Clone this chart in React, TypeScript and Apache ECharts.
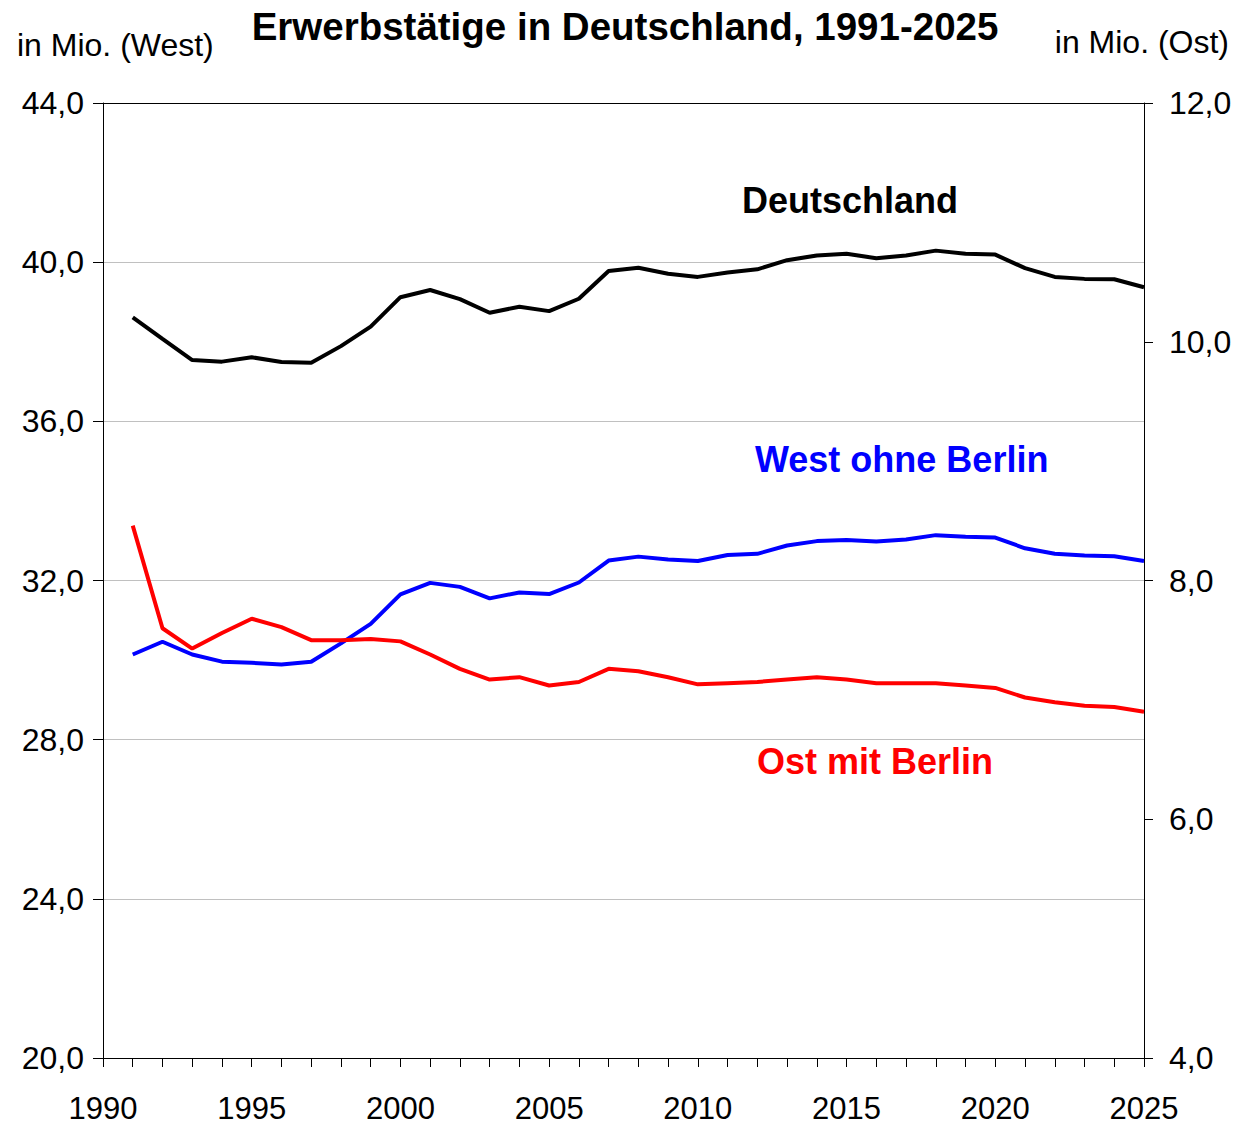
import React, { useEffect, useRef } from "react";
import * as echarts from "echarts";

const years = [
  1991, 1992, 1993, 1994, 1995, 1996, 1997, 1998, 1999, 2000,
  2001, 2002, 2003, 2004, 2005, 2006, 2007, 2008, 2009, 2010,
  2011, 2012, 2013, 2014, 2015, 2016, 2017, 2018, 2019, 2020,
  2021, 2022, 2023, 2024, 2025,
];

const deutschland = [
  38.61, 38.07, 37.54, 37.5, 37.61, 37.49, 37.47, 37.89, 38.38, 39.12,
  39.3, 39.07, 38.73, 38.88, 38.77, 39.08, 39.78, 39.86, 39.71, 39.63,
  39.74, 39.82, 40.05, 40.17, 40.21, 40.1, 40.17, 40.29, 40.21, 40.19,
  39.85, 39.63, 39.58, 39.57, 39.37,
];

const westOhneBerlin = [
  30.14, 30.46, 30.14, 29.96, 29.93, 29.89, 29.96, 30.42, 30.91, 31.65,
  31.94, 31.84, 31.55, 31.7, 31.66, 31.95, 32.5, 32.6, 32.53, 32.49,
  32.64, 32.67, 32.88, 32.99, 33.02, 32.98, 33.03, 33.14, 33.1, 33.08,
  32.81, 32.67, 32.63, 32.61, 32.49,
];

const ostMitBerlin = [
  8.46, 7.6, 7.43, 7.56, 7.68, 7.61, 7.5, 7.5, 7.51, 7.49,
  7.38, 7.26, 7.17, 7.19, 7.12, 7.15, 7.26, 7.24, 7.19, 7.13,
  7.14, 7.15, 7.17, 7.19, 7.17, 7.14, 7.14, 7.14, 7.12, 7.1,
  7.02, 6.98, 6.95, 6.94, 6.9,
];

const titleText = "Erwerbstätige in Deutschland, 1991-2025";
const leftUnit = "in Mio. (West)";
const rightUnit = "in Mio. (Ost)";
const labelDeutschland = "Deutschland";
const labelWest = "West ohne Berlin";
const labelOst = "Ost mit Berlin";

const FONT = "'Liberation Sans', Arial, sans-serif";

const fmt = (v: number) => v.toFixed(1).replace(".", ",");

export default function App() {
  const ref = useRef<HTMLDivElement>(null);

  useEffect(() => {
    document.body.style.margin = "0";
    if (!ref.current) return;
    const chart = echarts.init(ref.current, null, { renderer: "svg" });
    const pair = (arr: number[]) => years.map((y, i) => [y, arr[i]]);

    chart.setOption({
      animation: false,
      backgroundColor: "#ffffff",
      grid: { left: 103, right: 101, top: 103, bottom: 67, containLabel: false },
      xAxis: {
        type: "value",
        min: 1990,
        max: 2025,
        interval: 1,
        axisLine: { show: true, lineStyle: { color: "#000", width: 1 } },
        axisTick: { show: true, length: 9, lineStyle: { color: "#000", width: 1 } },
        splitLine: { show: false },
        axisLabel: {
          margin: 35,
          fontFamily: FONT,
          fontSize: 31,
          color: "#000",
          showMinLabel: true,
          showMaxLabel: true,
          formatter: (v: number) => (v % 5 === 0 ? String(v) : ""),
        },
      },
      yAxis: [
        {
          type: "value",
          position: "left",
          min: 20,
          max: 44,
          interval: 4,
          axisLine: { show: true, lineStyle: { color: "#000", width: 1 } },
          axisTick: { show: true, length: 10, lineStyle: { color: "#000", width: 1 } },
          splitLine: {
            show: true,
            lineStyle: {
              color: ["#000", "#c0c0c0", "#c0c0c0", "#c0c0c0", "#c0c0c0", "#c0c0c0", "#000"],
              width: 1,
            },
          },
          axisLabel: {
            margin: 19,
            fontFamily: FONT,
            fontSize: 32,
            color: "#000",
            formatter: fmt,
          },
        },
        {
          type: "value",
          position: "right",
          min: 4,
          max: 12,
          interval: 2,
          axisLine: { show: true, lineStyle: { color: "#000", width: 1 } },
          axisTick: { show: true, length: 9, lineStyle: { color: "#000", width: 1 } },
          splitLine: { show: false },
          axisLabel: {
            margin: 25,
            fontFamily: FONT,
            fontSize: 32,
            color: "#000",
            formatter: fmt,
          },
        },
      ],
      series: [
        {
          name: labelDeutschland,
          type: "line",
          yAxisIndex: 0,
          data: pair(deutschland),
          showSymbol: false,
          lineStyle: { color: "#000000", width: 4 },
          itemStyle: { color: "#000000" },
          z: 3,
        },
        {
          name: labelWest,
          type: "line",
          yAxisIndex: 0,
          data: pair(westOhneBerlin),
          showSymbol: false,
          lineStyle: { color: "#0000ff", width: 4 },
          itemStyle: { color: "#0000ff" },
          z: 3,
        },
        {
          name: labelOst,
          type: "line",
          yAxisIndex: 1,
          data: pair(ostMitBerlin),
          showSymbol: false,
          lineStyle: { color: "#ff0000", width: 4 },
          itemStyle: { color: "#ff0000" },
          z: 4,
        },
      ],
      graphic: [
        {
          type: "text",
          x: 625,
          y: 26,
          style: {
            text: titleText,
            font: `bold 38.5px ${FONT}`,
            fill: "#000",
            textAlign: "center",
            textVerticalAlign: "middle",
          },
        },
        {
          type: "text",
          x: 17,
          y: 45,
          style: {
            text: leftUnit,
            font: `32px ${FONT}`,
            fill: "#000",
            textAlign: "left",
            textVerticalAlign: "middle",
          },
        },
        {
          type: "text",
          x: 1229,
          y: 42,
          style: {
            text: rightUnit,
            font: `32px ${FONT}`,
            fill: "#000",
            textAlign: "right",
            textVerticalAlign: "middle",
          },
        },
        {
          type: "text",
          x: 742,
          y: 200,
          style: {
            text: labelDeutschland,
            font: `bold 36px ${FONT}`,
            fill: "#000",
            textAlign: "left",
            textVerticalAlign: "middle",
          },
        },
        {
          type: "text",
          x: 755,
          y: 459,
          style: {
            text: labelWest,
            font: `bold 36px ${FONT}`,
            fill: "#0000ff",
            textAlign: "left",
            textVerticalAlign: "middle",
          },
        },
        {
          type: "text",
          x: 757,
          y: 761,
          style: {
            text: labelOst,
            font: `bold 36px ${FONT}`,
            fill: "#ff0000",
            textAlign: "left",
            textVerticalAlign: "middle",
          },
        },
      ],
    });

    return () => {
      chart.dispose();
    };
  }, []);

  return <div ref={ref} style={{ width: 1245, height: 1125 }} />;
}
